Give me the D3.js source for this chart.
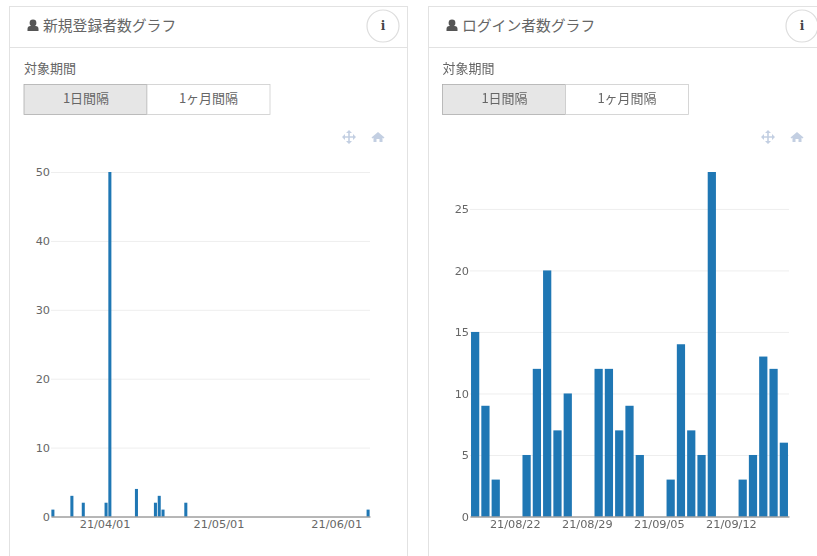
<!DOCTYPE html>
<html>
<head>
<meta charset="utf-8">
<script src="https://cdn.jsdelivr.net/npm/d3@7"></script>
<style>
html, body { margin: 0; padding: 0; background: #fff; overflow: hidden; }
svg { display: block; filter: blur(0.45px); }
text { font-family: "Noto Sans CJK JP", "Noto Sans", sans-serif; fill: #666; }
.tick text { font-family: "DejaVu Sans", sans-serif; font-size: 11.3px; fill: #666; }
</style>
</head>
<body>
<div id="view"></div>
<script>
var width = 817, height = 556;

var signupTitle = "新規登録者数グラフ";
var signupRange = ["2021-03-18", "2021-06-09"];
var signupDates = ["2021-03-18", "2021-03-23", "2021-03-26", "2021-04-01", "2021-04-02", "2021-04-09",
	"2021-04-14", "2021-04-15", "2021-04-16", "2021-04-22", "2021-06-09"];
var signupValues = [1, 3, 2, 2, 50, 4, 2, 3, 1, 2, 1];
var signupXTicks = ["2021-04-01", "2021-05-01", "2021-06-01"];
var signupYTicks = [0, 10, 20, 30, 40, 50];

var loginTitle = "ログイン者数グラフ";
var loginRange = ["2021-08-18", "2021-09-17"];
var loginValues = [15, 9, 3, 0, 0, 5, 12, 20, 7, 10, 0, 0, 12, 12, 7, 9, 5, 0, 0, 3, 14, 7, 5, 28, 0, 0, 3, 5, 13, 12, 6];
var loginXTicks = ["2021-08-22", "2021-08-29", "2021-09-05", "2021-09-12"];
var loginYTicks = [0, 5, 10, 15, 20, 25];

var periodLabel = "対象期間";
var buttonLabels = ["1日間隔", "1ヶ月間隔"];

var parseDay = d3.utcParse("%Y-%m-%d");
var formatDay = d3.utcFormat("%Y-%m-%d");
var formatTick = d3.utcFormat("%y/%m/%d");

var svg = d3.select("#view").append("svg")
	.attr("width", width)
	.attr("height", height);

// all days between first and last, so empty days keep their slot
function dayList(range) {
	var end = d3.utcDay.offset(parseDay(range[1]), 1);
	return d3.utcDay.range(parseDay(range[0]), end).map(formatDay);
}

function drawCard(g, cardWidth, title, nudge) {
	g.append("rect")
		.attr("x", 0.5).attr("y", 6.5)
		.attr("width", cardWidth).attr("height", 600)
		.attr("fill", "#fff").attr("stroke", "#e2e2e2");
	g.append("line")
		.attr("x1", 0.5).attr("x2", cardWidth)
		.attr("y1", 47.5).attr("y2", 47.5)
		.attr("stroke", "#e2e2e2");

	// person icon
	g.append("circle").attr("cx", 24).attr("cy", 23).attr("r", 3.4).attr("fill", "#555");
	g.append("path").attr("d", "M18.5 31 v-2 q0 -3 3 -3 h5 q3 0 3 3 v2 z").attr("fill", "#555");

	g.append("text").attr("x", 34).attr("y", 31)
		.style("font-size", "14.8px").text(title);

	// info button
	g.append("circle").attr("cx", 374).attr("cy", 26).attr("r", 16)
		.attr("fill", "#fff").attr("stroke", "#ddd").attr("stroke-width", 1.2);
	g.append("text").attr("x", 374).attr("y", 30).attr("text-anchor", "middle")
		.style("font-family", "'DejaVu Serif', serif").style("font-weight", "bold")
		.style("font-size", "12px").style("fill", "#444").text("i");

	var form = g.append("g").attr("transform", "translate(" + nudge + ",0)");
	form.append("text").attr("x", 15).attr("y", 73)
		.style("font-size", "13px").text(periodLabel);

	// period buttons
	form.selectAll(".btn").data(buttonLabels).enter().append("rect")
		.attr("class", "btn")
		.attr("x", function(d, i) { return 15 + i * 123; })
		.attr("y", 84.5).attr("width", 123).attr("height", 30)
		.attr("fill", function(d, i) { return i == 0 ? "#e6e6e6" : "#fff"; })
		.attr("stroke", function(d, i) { return i == 0 ? "#adadad" : "#ccc"; })
		.attr("stroke-width", 0.8);
	form.selectAll(".btnText").data(buttonLabels).enter().append("text")
		.attr("class", "btnText")
		.attr("x", function(d, i) { return 77 + i * 122.5; })
		.attr("y", 103).attr("text-anchor", "middle")
		.style("font-size", "13px").text(function(d) { return d; });

	// move icon
	var toolColor = "#c3cfe2";
	var move = g.append("g").attr("transform", "translate(340,137)");
	move.append("path").attr("d", "M-5.5 0 H5.5 M0 -5.5 V5.5")
		.attr("stroke", toolColor).attr("stroke-width", 1.6);
	move.append("path").attr("d", "M-7 0 l3 -3 v6 z M7 0 l-3 -3 v6 z M0 -7 l-3 3 h6 z M0 7 l-3 -3 h6 z")
		.attr("fill", toolColor);
	// home icon
	g.append("path").attr("transform", "translate(369,137)")
		.attr("d", "M-6.5 0.5 L0 -5 L6.5 0.5 L5.5 1.5 L4.5 0.7 V5 H1.5 V2 H-1.5 V5 H-4.5 V0.7 L-5.5 1.5 z")
		.attr("fill", toolColor);
}

function drawChart(g, days, dates, values, xTicks, yTicks, yMax) {
	var x = d3.scaleBand().domain(days).range([42, 361]).paddingInner(0.2).paddingOuter(0.1);
	var y = d3.scaleLinear().domain([0, yMax]).range([516.5, 172]);

	var yAxis = g.append("g").attr("transform", "translate(42,0)")
		.call(d3.axisLeft(y).tickValues(yTicks).tickSize(-319).tickPadding(1));
	yAxis.select(".domain").remove();
	yAxis.selectAll("line").attr("stroke", "#eeeeee");

	g.selectAll(".bar").data(dates).enter().append("rect")
		.attr("class", "bar")
		.attr("x", function(d) { return x(d); })
		.attr("width", x.bandwidth())
		.attr("y", function(d, i) { return y(values[i]); })
		.attr("height", function(d, i) { return y(0) - y(values[i]); })
		.attr("fill", "#1f77b4");

	var xAxis = g.append("g").attr("transform", "translate(0,516.5)")
		.call(d3.axisBottom(x).tickValues(xTicks).tickSize(0).tickPadding(3)
			.tickFormat(function(d) { return formatTick(parseDay(d)); }));
	xAxis.select(".domain").attr("stroke", "#777");
	xAxis.selectAll("text").attr("dx", -1);
}

var left = svg.append("g").attr("transform", "translate(9,0)");
drawCard(left, 398, signupTitle, 0);
drawChart(left, dayList(signupRange), signupDates, signupValues, signupXTicks, signupYTicks, 50);

var right = svg.append("g").attr("transform", "translate(428,0)");
drawCard(right, 420, loginTitle, -0.5);
drawChart(right, dayList(loginRange), dayList(loginRange), loginValues, loginXTicks, loginYTicks, 28);
</script>
</body>
</html>
